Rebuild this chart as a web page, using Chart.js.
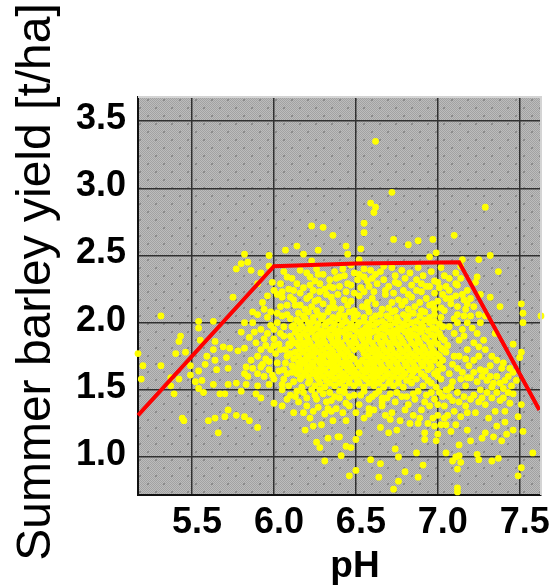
<!DOCTYPE html>
<html>
<head>
<meta charset="utf-8">
<title>Summer barley yield vs pH</title>
<script src="https://cdn.jsdelivr.net/npm/chart.js@4"></script>
<style>
html, body { margin: 0; padding: 0; background: #fff; }
canvas { display: block; filter: blur(0.5px); }
</style>
</head>
<body>
<canvas id="chart" width="553" height="586"></canvas>
<script>
const xTickLabels = [5.5, 6.0, 6.5, 7.0, 7.5];
const yTickLabels = [1.0, 1.5, 2.0, 2.5, 3.0, 3.5];

// red response line
const linePH = [5.17, 6.0, 6.5, 7.13, 7.62];
const lineYield = [1.31, 2.42, 2.44, 2.45, 1.35];

// [pH, yield], a region at a time
const pointsUpper = [
  [6.23,2.72],[6.30,2.71],[6.36,2.65],[6.14,2.57],[6.07,2.54],[5.82,2.51],[5.97,2.50],[6.18,2.51],[6.27,2.54],
  [5.84,2.45],[5.80,2.44],[5.77,2.40],[5.86,2.39],[5.97,2.42],[5.92,2.37],[5.90,2.29],[5.75,2.19],[5.99,2.30],
  [6.00,2.24],[6.02,2.21],[6.08,2.34],[6.12,2.24],[6.16,2.39],[6.23,2.46],[6.22,2.34],[6.28,2.29],[6.34,2.32],
  [6.24,2.24],[6.18,2.26],[6.32,2.21],[6.62,3.35],[6.72,2.97],[6.59,2.89],[6.62,2.86],[6.61,2.82],[6.55,2.74],
  [6.55,2.67],[6.73,2.62],[6.82,2.58],[6.88,2.61],[6.97,2.62],[7.10,2.65],[7.29,2.86],[7.32,2.50],[7.37,2.38],
  [7.25,2.47],[7.15,2.47],[6.99,2.52],[6.95,2.49],[6.44,2.57],[6.45,2.51],[6.53,2.55],[6.52,2.47],[7.24,2.34],
  [7.23,2.30],[7.11,2.37],[7.14,2.42],[7.07,2.33],[7.02,2.41],[7.11,2.29],[6.72,2.41],[6.83,2.37],[6.80,2.33],
  [6.88,2.41],[6.87,2.32],[6.93,2.27],[7.01,2.26],[6.67,2.42],[6.59,2.39],[6.55,2.34],[6.45,2.29],[6.51,2.32],
  [6.67,2.32],[6.70,2.27],[6.79,2.24],[6.87,2.24],[6.95,2.27],[7.12,2.28],[7.18,2.24],[7.32,2.19],[7.11,2.20],
  [7.03,2.21],[6.58,2.27],[6.49,2.22],[6.40,2.27],[6.37,2.38],[6.42,2.40],[6.47,2.43],[6.26,2.40],[6.62,2.36],
  [6.06,2.38],[6.11,2.33],[6.14,2.29],[6.20,2.37],[6.25,2.31],[6.30,2.36],[6.31,2.25],[6.36,2.26],[6.38,2.33],
  [6.43,2.35],[6.47,2.28],[6.49,2.37],[6.53,2.26],[6.55,2.40],[6.57,2.31],[6.63,2.29],[6.65,2.38],[6.68,2.24],
  [6.74,2.35],[6.76,2.29],[6.78,2.39],[6.84,2.28],[6.91,2.35],[6.96,2.38],[6.98,2.31],[7.04,2.35],[7.05,2.27],
  [6.04,2.29],[6.05,2.19],[6.09,2.25],[6.16,2.22],[6.22,2.20],[6.28,2.23],[6.39,2.21],[6.44,2.23],[6.55,2.23],
  [6.61,2.23],[6.73,2.22],[6.82,2.21],[6.90,2.23],[6.98,2.22],[7.07,2.24],[7.15,2.21],[7.20,2.18],[7.26,2.21]
];
const pointsLeft = [
  [5.31,2.05],[5.54,2.01],[5.63,2.01],[5.54,1.96],[5.17,1.77],[5.43,1.90],[5.42,1.86],[5.55,1.87],[5.64,1.86],
  [5.40,1.77],[5.46,1.78],[5.20,1.68],[5.31,1.68],[5.19,1.58],[5.37,1.59],[5.42,1.58],[5.37,1.53],[5.39,1.47],
  [5.49,1.68],[5.49,1.61],[5.54,1.64],[5.59,1.75],[5.63,1.80],[5.69,1.82],[5.73,1.81],[5.78,1.79],[5.82,1.81],
  [5.58,1.69],[5.64,1.72],[5.71,1.74],[5.72,1.66],[5.83,1.67],[5.82,1.62],[5.65,1.65],[5.56,1.57],[5.52,1.56],
  [5.54,1.51],[5.63,1.54],[5.72,1.54],[5.77,1.55],[5.83,1.54],[5.90,1.53],[5.97,1.54],[6.05,1.54],[5.57,1.48],
  [5.67,1.47],[5.70,1.47],[5.80,1.49],[5.89,1.47],[5.92,1.44],[6.00,1.40],[6.05,1.38],[5.44,1.29],[5.45,1.27],
  [5.60,1.27],[5.64,1.29],[5.72,1.35],[5.70,1.30],[5.77,1.31],[5.82,1.30],[5.85,1.27],[5.90,1.22],[5.66,1.18],
  [5.82,2.00],[5.87,2.00],[5.80,1.93],[5.85,1.89],[5.90,2.06],[5.92,1.95],[5.89,1.85],[5.94,1.88],[5.98,1.80],
  [5.90,1.75],[5.95,1.73],[5.87,1.66],[5.90,1.62],[5.97,1.65],[6.02,1.70],[6.04,1.80],[6.00,1.88],[6.02,2.00],
  [5.98,2.08],[6.06,1.90],[6.08,1.75],[6.08,1.62],[6.12,1.56],[6.10,1.46],[6.15,1.41],[6.12,1.33],[6.20,1.38],
  [6.27,1.37],[6.26,1.43],[6.31,1.32],[6.36,1.27],[6.22,1.29],[6.24,1.23],[6.19,1.20],[6.26,1.11],[6.28,1.07],
  [6.33,1.14],[6.31,0.97],[6.39,1.15],[5.93,2.15],[5.96,2.20],[6.04,2.12],[6.08,2.06],[6.11,1.97],[6.13,2.13],
  [6.10,2.19],[6.15,1.83],[6.16,1.68],[6.18,1.48],[6.23,1.50],[6.30,1.47],[6.35,1.42],[6.38,1.36],[6.42,1.33],
  [5.96,2.04],[6.00,1.95],[6.05,2.05],[6.06,1.97],[5.96,1.92],[6.03,1.84],[6.09,1.84],[6.01,1.77],[6.07,1.70],
  [6.03,1.64],[5.94,1.60],[6.00,1.58],[6.06,1.58],[6.14,1.49],[6.09,1.53],[6.20,1.44],[6.32,1.41],[6.40,1.44],
  [6.46,1.45],[6.34,1.48],[6.40,1.49],[6.24,1.34],[6.33,1.36],[6.29,1.24],[6.18,1.33],[5.93,1.69],[5.86,1.72]
];
const pointsRight = [
  [6.44,1.40],[6.50,1.33],[6.52,1.39],[6.53,1.46],[6.62,1.47],[6.71,1.47],[6.61,1.35],[6.66,1.38],[6.72,1.33],
  [6.71,1.28],[6.55,1.29],[6.44,1.27],[6.52,1.18],[6.65,1.22],[6.70,1.18],[6.75,1.20],[6.80,1.35],[6.83,1.25],
  [6.89,1.29],[6.94,1.25],[6.86,1.43],[6.90,1.35],[6.98,1.43],[7.00,1.31],[7.04,1.38],[7.06,1.31],[6.98,1.23],
  [7.00,1.17],[7.05,1.24],[7.11,1.24],[6.92,1.18],[6.92,1.13],[6.99,1.12],[7.18,1.20],[7.20,1.12],[7.13,1.09],
  [7.17,1.38],[7.23,1.33],[7.29,1.39],[7.35,1.34],[7.41,1.34],[7.46,1.47],[7.51,1.39],[7.49,1.30],[7.36,1.23],
  [7.41,1.26],[7.29,1.18],[7.27,1.14],[7.34,1.15],[7.39,1.12],[7.42,1.17],[7.46,1.20],[7.52,1.19],[7.58,1.03],
  [6.44,1.08],[6.47,1.07],[6.50,1.13],[6.40,1.15],[6.74,1.06],[6.76,1.00],[6.87,1.03],[7.05,1.03],[7.09,0.97],
  [7.11,1.00],[7.13,1.01],[7.14,0.96],[7.12,0.91],[7.24,1.02],[7.25,0.98],[7.33,0.97],[7.37,0.99],[6.59,0.98],
  [6.65,0.95],[6.50,0.90],[6.46,0.86],[6.64,0.85],[6.80,0.89],[6.88,0.85],[6.76,0.82],[6.73,0.76],[6.91,0.94],
  [7.12,0.77],[7.12,0.74],[7.51,0.92],[7.49,0.86],[6.41,1.01],[7.63,2.05],[7.52,2.07],[7.52,2.00],[7.51,2.14],
  [7.38,2.12],[7.35,1.92],[7.46,1.84],[7.51,1.78],[7.50,1.74],[7.29,1.80],[7.36,1.72],[7.32,1.68],[7.39,1.66],
  [7.46,1.63],[7.48,1.57],[7.41,1.57],[7.36,1.60],[7.30,1.57],[7.24,1.56],[7.26,1.65],[7.22,1.72],[7.28,1.87],
  [7.26,2.00],[7.29,2.05],[7.24,1.92],[7.17,2.10],[7.12,2.06],[7.18,2.00],[7.13,1.87],[7.18,1.80],[7.22,1.85],
  [7.10,1.75],[7.15,1.63],[7.09,1.56],[7.17,1.53],[7.12,1.48],[7.22,1.46],[7.30,1.48],[7.36,1.48],[7.43,1.48],
  [7.29,1.64],[7.34,1.55],[7.40,1.51],[7.22,2.12],[7.16,2.17],[7.08,2.14],[7.04,2.09],[7.07,1.97],[7.10,1.92],
  [7.06,1.83],[7.09,1.69],[7.13,1.75],[7.19,1.68],[7.14,1.58],[7.20,1.59],[7.07,1.62],[7.15,1.95],[7.20,2.05],
  [7.12,2.00],[7.06,1.50],[7.03,1.45],[7.09,1.42],[7.16,1.45],[7.26,1.50],[7.33,1.52],[6.93,1.46],[6.85,1.47],
  [6.78,1.45],[6.66,1.44],[6.58,1.43],[6.74,1.41],[6.82,1.39],[6.95,1.38],[7.10,1.34],[7.25,1.41],[7.14,1.30],
  [6.68,1.31],[6.58,1.36],[6.85,1.31],[6.97,1.29],[7.02,1.24],[7.08,1.19],[6.77,1.27],[7.44,1.40],[7.38,1.42]
];
const pointsCore = [
  [6.20,2.18],[6.27,2.17],[6.35,2.19],[6.43,2.17],[6.52,2.20],[6.60,2.18],[6.68,2.21],[6.76,2.17],[6.84,2.19],[6.93,2.18],[7.00,2.16],
  [6.16,2.13],[6.23,2.12],[6.30,2.14],[6.37,2.11],[6.45,2.13],[6.54,2.12],[6.62,2.14],[6.70,2.11],[6.78,2.13],[6.86,2.12],[6.95,2.13],[7.02,2.11],
  [6.15,2.07],[6.21,2.08],[6.27,2.06],[6.33,2.08],[6.40,2.06],[6.46,2.08],[6.51,2.06],[6.58,2.08],[6.65,2.06],[6.72,2.08],[6.79,2.06],[6.85,2.07],[6.92,2.08],[6.98,2.06],[7.02,2.04],
  [6.14,2.02],[6.19,2.03],[6.24,2.01],[6.29,2.03],[6.34,2.01],[6.39,2.03],[6.44,2.01],[6.49,2.03],[6.55,2.01],[6.60,2.03],[6.66,2.01],[6.71,2.03],[6.76,2.01],[6.81,2.03],[6.87,2.01],[6.92,2.02],[6.98,2.01],
  [6.12,1.98],[6.17,1.97],[6.22,1.98],[6.26,1.96],[6.31,1.98],[6.36,1.96],[6.41,1.98],[6.46,1.96],[6.51,1.98],[6.56,1.96],[6.61,1.98],[6.66,1.96],[6.71,1.98],[6.76,1.96],[6.81,1.98],[6.86,1.96],[6.91,1.97],[6.97,1.96],[7.03,1.97],
  [6.13,1.93],[6.18,1.92],[6.23,1.93],[6.27,1.91],[6.32,1.93],[6.37,1.92],[6.42,1.93],[6.46,1.91],[6.51,1.93],[6.56,1.92],[6.60,1.93],[6.65,1.91],[6.70,1.93],[6.75,1.92],[6.80,1.93],[6.85,1.91],[6.90,1.93],[6.96,1.91],[7.01,1.92],
  [6.11,1.87],[6.16,1.88],[6.21,1.87],[6.26,1.88],[6.30,1.87],[6.35,1.88],[6.39,1.87],[6.44,1.88],[6.49,1.87],[6.54,1.88],[6.58,1.87],[6.63,1.88],[6.68,1.87],[6.73,1.88],[6.78,1.87],[6.83,1.88],[6.88,1.87],[6.93,1.88],[6.98,1.86],[7.04,1.87],
  [6.10,1.83],[6.19,1.83],[6.24,1.82],[6.28,1.83],[6.33,1.82],[6.38,1.83],[6.42,1.82],[6.47,1.83],[6.52,1.82],[6.56,1.83],[6.61,1.82],[6.66,1.83],[6.71,1.82],[6.76,1.83],[6.81,1.82],[6.86,1.83],[6.91,1.82],[6.96,1.82],[7.02,1.81],
  [6.13,1.78],[6.18,1.78],[6.23,1.77],[6.27,1.78],[6.32,1.77],[6.36,1.78],[6.41,1.77],[6.45,1.78],[6.55,1.77],[6.60,1.78],[6.64,1.77],[6.69,1.78],[6.74,1.77],[6.79,1.78],[6.84,1.77],[6.89,1.78],[6.94,1.77],[6.99,1.77],[7.05,1.78],
  [6.12,1.73],[6.17,1.72],[6.21,1.73],[6.26,1.72],[6.30,1.73],[6.35,1.72],[6.39,1.73],[6.44,1.72],[6.49,1.73],[6.54,1.72],[6.59,1.73],[6.63,1.72],[6.68,1.73],[6.73,1.72],[6.78,1.73],[6.83,1.72],[6.88,1.73],[6.93,1.72],[6.98,1.72],[7.03,1.72],
  [6.11,1.68],[6.20,1.67],[6.24,1.68],[6.29,1.67],[6.34,1.68],[6.38,1.67],[6.43,1.68],[6.47,1.67],[6.52,1.68],[6.57,1.67],[6.61,1.68],[6.66,1.67],[6.71,1.68],[6.76,1.67],[6.81,1.68],[6.86,1.67],[6.91,1.68],[6.96,1.67],[7.03,1.66],
  [6.14,1.62],[6.19,1.63],[6.24,1.62],[6.28,1.63],[6.33,1.62],[6.37,1.63],[6.42,1.62],[6.47,1.63],[6.51,1.62],[6.56,1.63],[6.61,1.62],[6.65,1.63],[6.70,1.62],[6.75,1.63],[6.80,1.62],[6.85,1.63],[6.90,1.62],[6.98,1.62],
  [6.16,1.58],[6.22,1.57],[6.27,1.58],[6.32,1.57],[6.37,1.58],[6.42,1.57],[6.46,1.58],[6.51,1.57],[6.56,1.58],[6.61,1.57],[6.66,1.58],[6.71,1.57],[6.76,1.58],[6.81,1.57],[6.87,1.58],[6.94,1.57],[7.02,1.58],
  [6.25,1.53],[6.31,1.52],[6.37,1.53],[6.43,1.52],[6.49,1.53],[6.55,1.52],[6.61,1.53],[6.67,1.52],[6.73,1.53],[6.79,1.52],[6.91,1.53],[6.99,1.52],[7.05,1.50]
];
// second pass over the solid middle of the cloud
const pointsCoreFill = [
  [6.19,2.10],[6.26,2.09],[6.34,2.11],[6.41,2.10],[6.49,2.09],[6.57,2.11],[6.66,2.10],[6.74,2.09],[6.82,2.10],[6.90,2.09],[6.98,2.10],
  [6.18,2.05],[6.24,2.04],[6.30,2.05],[6.36,2.04],[6.43,2.05],[6.49,2.05],[6.55,2.04],[6.62,2.05],[6.69,2.05],[6.75,2.04],[6.82,2.05],[6.89,2.05],[6.95,2.04],
  [6.16,2.00],[6.21,2.00],[6.27,1.99],[6.32,2.00],[6.37,1.99],[6.42,2.00],[6.47,1.99],[6.52,2.00],[6.58,1.99],[6.63,2.00],[6.68,1.99],[6.74,2.00],[6.79,1.99],[6.84,2.00],[6.90,1.99],[6.95,2.00],[7.01,1.99],
  [6.15,1.95],[6.20,1.95],[6.24,1.95],[6.29,1.94],[6.34,1.95],[6.39,1.94],[6.44,1.95],[6.49,1.95],[6.54,1.94],[6.58,1.95],[6.63,1.94],[6.68,1.95],[6.73,1.94],[6.78,1.95],[6.83,1.94],[6.88,1.95],[6.94,1.94],[6.99,1.95],
  [6.10,1.90],[6.15,1.90],[6.20,1.90],[6.25,1.89],[6.30,1.90],[6.34,1.90],[6.39,1.90],[6.44,1.90],[6.49,1.89],[6.53,1.90],[6.58,1.90],[6.63,1.89],[6.67,1.90],[6.72,1.90],[6.77,1.89],[6.82,1.90],[6.87,1.90],[6.92,1.89],[6.98,1.90],[7.02,1.89],
  [6.13,1.85],[6.18,1.85],[6.22,1.85],[6.27,1.85],[6.31,1.85],[6.36,1.85],[6.41,1.85],[6.46,1.85],[6.50,1.85],[6.55,1.85],[6.60,1.85],[6.65,1.85],[6.70,1.85],[6.74,1.85],[6.79,1.85],[6.84,1.85],[6.89,1.85],[6.95,1.85],[7.00,1.84],
  [6.16,1.80],[6.21,1.80],[6.25,1.80],[6.30,1.80],[6.35,1.80],[6.40,1.80],[6.44,1.80],[6.49,1.80],[6.54,1.80],[6.58,1.80],[6.63,1.80],[6.67,1.80],[6.72,1.80],[6.77,1.80],[6.82,1.80],[6.87,1.80],[6.92,1.80],[6.97,1.79],[7.03,1.80],
  [6.15,1.75],[6.20,1.75],[6.24,1.75],[6.29,1.75],[6.34,1.75],[6.38,1.75],[6.43,1.75],[6.47,1.75],[6.57,1.75],[6.62,1.75],[6.66,1.75],[6.71,1.75],[6.76,1.75],[6.81,1.75],[6.86,1.75],[6.91,1.75],[6.96,1.75],[7.01,1.75],
  [6.15,1.70],[6.19,1.70],[6.23,1.70],[6.28,1.70],[6.32,1.70],[6.37,1.70],[6.41,1.70],[6.46,1.70],[6.51,1.70],[6.56,1.70],[6.60,1.70],[6.65,1.70],[6.70,1.70],[6.75,1.70],[6.80,1.70],[6.85,1.70],[6.90,1.70],[6.95,1.70],[7.01,1.69],
  [6.16,1.65],[6.22,1.65],[6.26,1.65],[6.31,1.65],[6.36,1.65],[6.40,1.65],[6.45,1.65],[6.49,1.65],[6.54,1.65],[6.59,1.65],[6.63,1.65],[6.68,1.65],[6.73,1.65],[6.78,1.65],[6.83,1.65],[6.88,1.65],[6.94,1.65],[7.00,1.64],
  [6.21,1.60],[6.26,1.60],[6.30,1.60],[6.35,1.60],[6.40,1.60],[6.44,1.60],[6.49,1.60],[6.54,1.60],[6.59,1.60],[6.63,1.60],[6.68,1.60],[6.73,1.60],[6.78,1.60],[6.84,1.60],[6.92,1.60],[7.00,1.60],
  [6.28,1.55],[6.34,1.55],[6.40,1.55],[6.46,1.55],[6.52,1.55],[6.58,1.55],[6.64,1.55],[6.70,1.55],[6.76,1.55],[6.84,1.55],[6.96,1.55]
];
// the thinner band round the solid middle
const pointsRing = [
  [6.05,1.50],[6.08,1.43],[6.13,1.45],[6.17,1.52],[6.21,1.55],[6.25,1.46],[6.28,1.50],[6.37,1.45],[6.43,1.48],[6.49,1.46],
  [6.55,1.49],[6.60,1.45],[6.64,1.49],[6.69,1.44],[6.75,1.48],[6.81,1.45],[6.88,1.49],[6.96,1.48],[7.01,1.48],[7.08,1.52],
  [7.07,1.45],[7.13,1.41],[7.20,1.43],[7.27,1.44],[7.33,1.44],[7.40,1.44],[7.45,1.53],[7.43,1.60],[7.38,1.55],[7.32,1.60],
  [7.27,1.60],[7.22,1.63],[7.18,1.59],[7.12,1.66],[7.17,1.73],[7.25,1.75],[7.33,1.75],[7.40,1.70],[7.44,1.66],[7.25,1.82],
  [7.16,1.90],[7.21,1.96],[7.10,2.03],[7.16,2.05],[7.25,2.06],[7.12,2.12],[7.18,2.14],[6.05,2.23],[6.12,2.17],[6.08,2.13],
  [6.02,2.07],[6.10,2.03],[6.04,1.92],[5.98,1.98],[6.07,1.80],[6.00,1.83],[6.06,1.65],[5.97,1.71],[5.99,1.61],[6.11,1.63],
  [6.10,1.77],[6.13,1.66],[6.17,1.60],[5.95,1.83],[5.92,1.80],[5.88,1.93],[5.94,2.10],[5.87,2.08],[5.92,1.67],[5.84,1.60],
  [6.66,1.41],[6.46,1.38],[6.35,1.34],[6.92,1.41],[7.00,1.39],[6.58,1.32],[6.88,1.25],[7.04,1.29],[7.18,1.33],[7.31,1.29],
  [6.36,2.15],[6.47,2.16],[6.57,2.15],[6.72,2.15],[6.80,2.16],[6.89,2.15],[6.97,2.14],[7.05,2.18],[6.25,2.16],[6.22,2.28],
  [6.40,2.34],[6.60,2.33],[6.74,2.30],[6.90,2.29],[7.00,2.30],[7.08,2.18],[7.14,2.33],[6.27,2.36],[6.34,2.27],[6.52,2.36]
];

const scatterData = [...pointsUpper, ...pointsLeft, ...pointsRight, ...pointsCore, ...pointsCoreFill, ...pointsRing].map(p => ({ x: p[0], y: p[1] }));
const lineData = linePH.map((x, i) => ({ x: x, y: lineYield[i] }));

// grey dithered tile with the small darker dots
function plotTile(ctx) {
  const tile = document.createElement('canvas');
  tile.width = 16;
  tile.height = 16;
  const t = tile.getContext('2d');
  for (let i = 0; i < 16; i++) {
    for (let j = 0; j < 16; j++) {
      t.fillStyle = (i + j) % 2 ? '#bcbcbc' : '#a2a2a2';
      t.fillRect(i, j, 1, 1);
    }
  }
  t.fillStyle = '#8c8c8c';
  t.fillRect(3, 3, 2, 2);
  t.fillRect(11, 11, 2, 2);
  return ctx.createPattern(tile, 'repeat');
}

const plotDecor = {
  id: 'plotDecor',
  beforeDraw(chart) {
    const { ctx, chartArea: a } = chart;
    ctx.save();
    ctx.fillStyle = plotTile(ctx);
    ctx.fillRect(a.left, a.top, a.width, a.height);
    ctx.restore();
  },
  afterDraw(chart) {
    const { ctx, chartArea: a } = chart;
    ctx.save();
    // light top and right frame
    ctx.strokeStyle = '#d4d4d4';
    ctx.lineWidth = 2;
    ctx.beginPath();
    ctx.moveTo(a.left, a.top);
    ctx.lineTo(a.right, a.top);
    ctx.lineTo(a.right, a.bottom);
    ctx.stroke();
    ctx.fillStyle = '#000';
    ctx.font = 'bold 37px "Liberation Sans"';
    ctx.textAlign = 'center';
    ctx.textBaseline = 'alphabetic';
    ctx.fillText('pH', 355, 577);
    ctx.translate(50, 282);
    ctx.rotate(-Math.PI / 2);
    ctx.font = '48px "Liberation Sans"';
    ctx.fillText('Summer barley yield [t/ha]', 0, 0);
    ctx.restore();
  }
};

new Chart(document.getElementById('chart'), {
  type: 'scatter',
  data: {
    datasets: [
      {
        label: 'Response',
        data: lineData,
        showLine: true,
        borderColor: '#ff0000',
        borderWidth: 4,
        pointRadius: 0,
        tension: 0,
        order: 0
      },
      {
        label: 'Yield',
        data: scatterData,
        backgroundColor: '#ffff00',
        borderWidth: 0,
        pointRadius: 3.4,
        order: 1
      }
    ]
  },
  options: {
    responsive: false,
    animation: false,
    clip: false,
    layout: { padding: { top: 97, right: 12 } },
    plugins: { legend: { display: false }, tooltip: { enabled: false } },
    scales: {
      x: {
        type: 'linear',
        min: 5.17,
        max: 7.63,
        afterBuildTicks: s => { s.ticks = xTickLabels.map(v => ({ value: v })); },
        afterFit: s => { s.height = 91; },
        grid: { color: '#303030', lineWidth: 1.5, drawTicks: false },
        border: { color: '#111', width: 2 },
        ticks: {
          color: '#000',
          font: { family: 'Liberation Sans', size: 36, weight: 'bold' },
          padding: 6,
          labelOffset: 5,
          maxRotation: 0,
          autoSkip: false,
          callback: v => v.toFixed(1)
        }
      },
      y: {
        type: 'linear',
        min: 0.717,
        max: 3.68,
        afterBuildTicks: s => { s.ticks = yTickLabels.map(v => ({ value: v })); },
        afterFit: s => { s.width = 138; },
        grid: { color: '#303030', lineWidth: 1.5, drawTicks: false },
        border: { color: '#111', width: 2 },
        ticks: {
          color: '#000',
          font: { family: 'Liberation Sans', size: 36, weight: 'bold' },
          padding: 12,
          labelOffset: -2,
          autoSkip: false,
          callback: v => v.toFixed(1)
        }
      }
    }
  },
  plugins: [plotDecor]
});
</script>
</body>
</html>
